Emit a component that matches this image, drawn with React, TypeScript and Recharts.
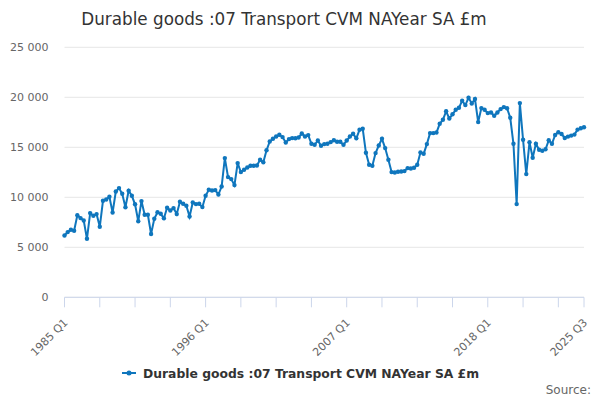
import React from 'react';
import { LineChart, Line, XAxis, YAxis, CartesianGrid } from 'recharts';

const START_YEAR = 1985;

// Durable goods :07 Transport CVM NAYear SA £m, quarterly 1985 Q1 .. 2025 Q3
const values1985to1994: number[] = [
  6180, 6520, 6750, 6650, 8200, 7920, 7680, 5850, 8420, 8150,
  8320, 7050, 9650, 9780, 10050, 8480, 10580, 10920, 10350, 9000,
  10660, 10150, 9300, 7600, 9620, 8250, 8250, 6330, 7850, 8500,
  8350, 7900, 8950, 8680, 8920, 8320, 9550, 9350, 9150, 8080,
];
const values1995to2004: number[] = [
  9480, 9320, 9350, 9020, 10150, 10750, 10680, 10720, 10280, 11080,
  13920, 12020, 11820, 11220, 13420, 12520, 12750, 12980, 13150, 13150,
  13180, 13750, 13500, 14700, 15580, 15850, 16080, 16250, 16020, 15480,
  15820, 15920, 15900, 15980, 16380, 16080, 16220, 15350, 15250, 15680,
];
const values2005to2014: number[] = [
  15150, 15320, 15350, 15520, 15700, 15550, 15550, 15250, 15680, 16080,
  16350, 15900, 16750, 16850, 14450, 13250, 13150, 14420, 15180, 15850,
  14920, 13750, 12520, 12480, 12550, 12580, 12620, 12920, 12880, 12950,
  13250, 14480, 14350, 15320, 16420, 16420, 16480, 17350, 17750, 18600,
];
const values2015to2025: number[] = [
  17880, 18300, 18750, 18950, 19650, 19220, 19950, 19380, 19830, 17520,
  18920, 18750, 18420, 18480, 18150, 18480, 18820, 19020, 18900, 17950,
  15350, 9320, 19420, 15750, 12320, 15500, 13950, 15350, 14750, 14650,
  14800, 15700, 15350, 16230, 16500, 16330, 15930, 16070, 16170, 16270,
  16770, 16900, 17000,
];

const values: number[] = [
  ...values1985to1994,
  ...values1995to2004,
  ...values2005to2014,
  ...values2015to2025,
];

const quarters: string[] = values.map(
  (_, i) => `${START_YEAR + Math.floor(i / 4)} Q${(i % 4) + 1}`
);

const TICK_STEP = 11;
const tickCategories: string[] = quarters
  .filter((_, i) => i % TICK_STEP === 0)
  .concat([quarters[quarters.length - 1]]);

const tickLabels: string[] = ['1985 Q1', '1996 Q1', '2007 Q1', '2018 Q1', '2025 Q3'];
const yTicks: number[] = [0, 5000, 10000, 15000, 20000, 25000];

const SERIES_NAME = 'Durable goods :07 Transport CVM NAYear SA £m';
const TITLE = 'Durable goods :07 Transport CVM NAYear SA £m';
const LINE_COLOR = '#0f76bd';

const data = quarters.map((q, i) => ({ q, v: values[i] }));

const fmt = (v: number) => String(v).replace(/\B(?=(\d{3})+(?!\d))/g, ' ');

const XTick = (props: any) => {
  const { x, y, payload } = props;
  if (!tickLabels.includes(payload.value)) return <g />;
  const ax = x + 4;
  const ay = y + 16;
  return (
    <text
      x={ax}
      y={ay}
      transform={`rotate(-45 ${ax} ${ay})`}
      textAnchor="end"
      fontSize={11}
      fill="#666666"
    >
      {payload.value}
    </text>
  );
};

export default function App() {
  return (
    <div
      style={{
        position: 'fixed',
        left: 0,
        top: 0,
        width: 600,
        height: 400,
        background: '#ffffff',
        fontFamily: '"DejaVu Sans", sans-serif',
      }}
    >
      <LineChart
        width={600}
        height={400}
        data={data}
        margin={{ top: 47.3, right: 16, left: 0, bottom: 0 }}
      >
        <CartesianGrid vertical={false} stroke="#e6e6e6" />
        <XAxis
          dataKey="q"
          ticks={tickCategories}
          interval={0}
          height={102.7}
          tickSize={10}
          tickMargin={0}
          axisLine={{ stroke: '#ccd6eb' }}
          tickLine={{ stroke: '#ccd6eb' }}
          tick={<XTick />}
        />
        <YAxis
          width={64.5}
          domain={[0, 25000]}
          ticks={yTicks}
          axisLine={false}
          tickLine={false}
          tickSize={0}
          tickMargin={16}
          tickFormatter={fmt}
          tick={{ fontSize: 11, fill: '#666666' }}
        />
        <Line
          type="linear"
          dataKey="v"
          name={SERIES_NAME}
          stroke={LINE_COLOR}
          strokeWidth={2}
          dot={{ r: 2.2, fill: LINE_COLOR, stroke: LINE_COLOR, strokeWidth: 0 }}
          isAnimationActive={false}
        />
      </LineChart>
      <svg
        width={600}
        height={400}
        style={{ position: 'absolute', left: 0, top: 0, pointerEvents: 'none' }}
      >
        <text x={284} y={24.5} textAnchor="middle" fontSize={16.8} fill="#333333">
          {TITLE}
        </text>
        <line x1={122} x2={136} y1={373} y2={373} stroke={LINE_COLOR} strokeWidth={2} />
        <circle cx={129} cy={373} r={2.5} fill={LINE_COLOR} />
        <text x={143} y={377.5} fontSize={12.35} fontWeight="bold" fill="#333333">
          {SERIES_NAME}
        </text>
        <text x={591} y={394.4} textAnchor="end" fontSize={12} fill="#666666">
          Source:
        </text>
      </svg>
    </div>
  );
}
